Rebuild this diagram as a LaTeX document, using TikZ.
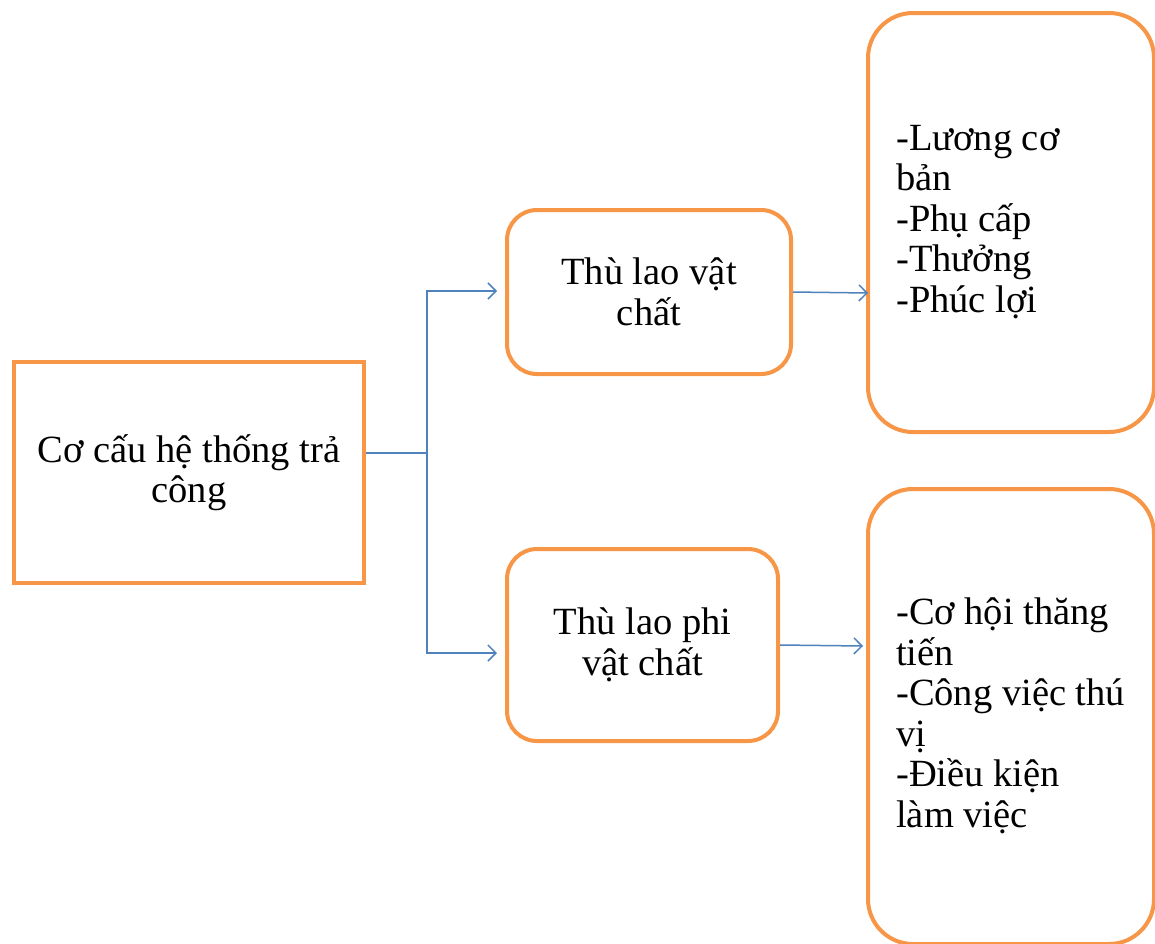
\documentclass[tikz,border=0pt]{standalone}
\usepackage{fontspec}
\setmainfont{Liberation Serif}
\usetikzlibrary{arrows.meta}
\definecolor{boxorange}{HTML}{F79646}
\definecolor{linkblue}{HTML}{4F81BD}
\begin{document}
\begin{tikzpicture}[x=1pt,y=-1pt,
  box/.style={draw=boxorange, line width=4pt, fill=white, inner sep=0pt,
              anchor=north west, align=center,
              font=\fontsize{38.5}{40.5}\selectfont},
  roundbox/.style={box, rounded corners=#1},
  itemtext/.style={inner sep=0pt, anchor=west, align=left,
              font=\fontsize{38.5}{40.5}\selectfont},
  link/.style={draw=linkblue, line width=1.5pt},
  tipped/.style={-{Straight Barb[length=8pt,width=16pt]}}]
\useasboundingbox (0,0) rectangle (1155,943);

% main box
\node[box, minimum width=350pt, minimum height=221pt] (root) at (12,360)
  {Cơ cấu hệ thống trả\\công};

% two kinds of reward
\node[roundbox=30pt, minimum width=284pt, minimum height=164pt] (mat) at (505,208)
  {Thù lao vật\\chất};
\node[roundbox=30pt, minimum width=271pt, minimum height=192pt] (nonmat) at (505,547)
  {Thù lao phi\\vật chất};

% detail boxes
\node[roundbox=45pt, minimum width=286pt, minimum height=419pt] (matlist) at (866,11) {};
\node[itemtext] (matitems) at (896,222)
  {-Lương cơ\\bản\\-Phụ cấp\\-Thưởng\\-Phúc lợi};
\node[roundbox=45pt, minimum width=286pt, minimum height=455pt] (nonmatlist) at (866,487) {};
\node[itemtext] (nonmatitems) at (896,716)
  {-Cơ hội thăng\\tiến\\-Công việc thú\\vị\\-Điều kiện\\làm việc};

% connectors
\coordinate (split) at (427,453);
\coordinate (tipmat) at (497,291);
\coordinate (tipnon) at (497,653);
\coordinate (tiplist) at (868,293);
\coordinate (tipnonlist) at (863,646);
\draw[link] (split -| root.east) -- (split);
\draw[link, tipped] (split) |- (tipmat);
\draw[link, tipped] (split) |- (tipnon);
\draw[link, tipped] (mat.east) -- (tiplist);
\draw[link, tipped] (nonmat.east) -- (tipnonlist);
\end{tikzpicture}
\end{document}
